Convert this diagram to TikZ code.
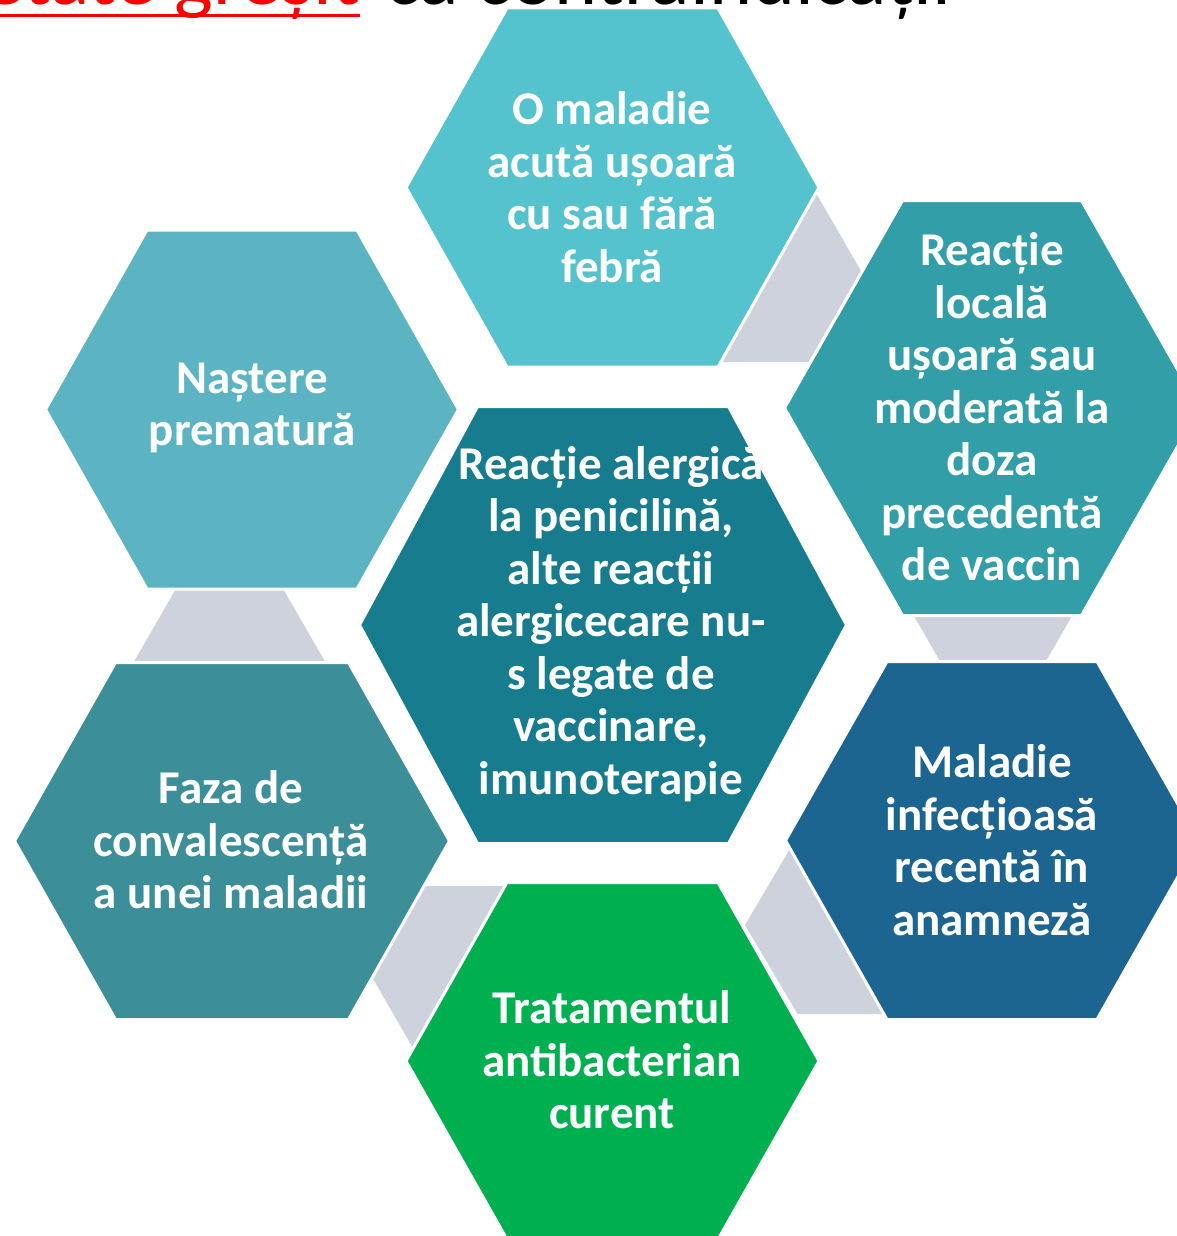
\documentclass[tikz,border=0pt]{standalone}
\usepackage{fontspec}
\setmainfont{Carlito}
\definecolor{acuteCol}{HTML}{55C3CD}
\definecolor{prematureCol}{HTML}{5CB4C3}
\definecolor{localCol}{HTML}{329EA8}
\definecolor{allergyCol}{HTML}{167C8E}
\definecolor{convalCol}{HTML}{3C8E99}
\definecolor{infectCol}{HTML}{1D6591}
\definecolor{antibioCol}{HTML}{00B050}
\definecolor{linkGray}{HTML}{CDD2DC}
\newcommand{\cellfont}{\bfseries\fontsize{47}{52.5}\selectfont}
\newcommand{\hexcell}[6]{%
	\fill[#6] ({#1-#3},#2) -- ({#1-#5},{#2-#4}) -- ({#1+#5},{#2-#4}) -- ({#1+#3},#2)
		-- ({#1+#5},{#2+#4}) -- ({#1-#5},{#2+#4}) -- cycle;}

\begin{document}
\begin{tikzpicture}[x=1pt,y=-1pt,
					cell/.style={draw=white,line width=3pt},
					link/.style={fill=linkGray},
					celltext/.style={text=white,font=\cellfont,align=center,inner sep=0pt},
					headline/.style={font=\fontsize{82}{98}\selectfont,inner sep=0pt}]
	\useasboundingbox (0,0) rectangle (1177,1236);
	\clip (0,0) rectangle (1177,1236);
	\node[headline,text=red,anchor=base east] (titleRed) at (360,5) {interpretate greșit};
	\draw[red,line width=3pt] ([yshift=-11pt]titleRed.base west) -- ([yshift=-11pt]titleRed.base east);
	\node[headline,anchor=base west] (titleBlack) at ([xshift=25pt]titleRed.base east) {ca contraindicații};
	\hexcell{756}{271}{105}{91}{52.5}{link}
	\hexcell{993}{571}{105}{91}{52.5}{link}
	\hexcell{850}{925}{105}{89}{52.5}{link}
	\hexcell{477}{977}{105}{91}{52.5}{link}
	\hexcell{229.5}{678}{105}{91}{52.5}{link}
	\hexcell{612.5}{187.5}{206.5}{179.5}{105.5}{cell,fill=acuteCol}
	\hexcell{252}{409.5}{206.5}{179.5}{105}{cell,fill=prematureCol}
	\hexcell{992}{408}{207.5}{207.5}{89.5}{cell,fill=localCol}
	\hexcell{603}{625}{243.5}{218.5}{125.5}{cell,fill=allergyCol}
	\hexcell{232}{841}{217.5}{178.5}{116.5}{cell,fill=convalCol}
	\hexcell{992}{840.5}{206.5}{179}{105}{cell,fill=infectCol}
	\hexcell{612.5}{1061}{206.5}{178.5}{105.5}{cell,fill=antibioCol}
	\node[celltext] (acute) at (612,187) {O maladie\\acută ușoară\\cu sau fără\\febră};
	\node[celltext] (premature) at (252,408) {Naștere\\prematură};
	\node[celltext] (local) at (992,407) {Reacție\\locală\\ușoară sau\\moderată la\\doza\\precedentă\\de vaccin};
	\node[celltext] (allergy) at (611,624) {Reacție alergică\\la penicilină,\\alte reacții\\alergicecare nu-\\s legate de\\vaccinare,\\imunoterapie};
	\node[celltext] (convalescence) at (231,840) {Faza de\\convalescență\\a unei maladii};
	\node[celltext] (infection) at (992,840) {Maladie\\infecțioasă\\recentă în\\anamneză};
	\node[celltext] (antibiotic) at (612,1060) {Tratamentul\\antibacterian\\curent};
\end{tikzpicture}
\end{document}
